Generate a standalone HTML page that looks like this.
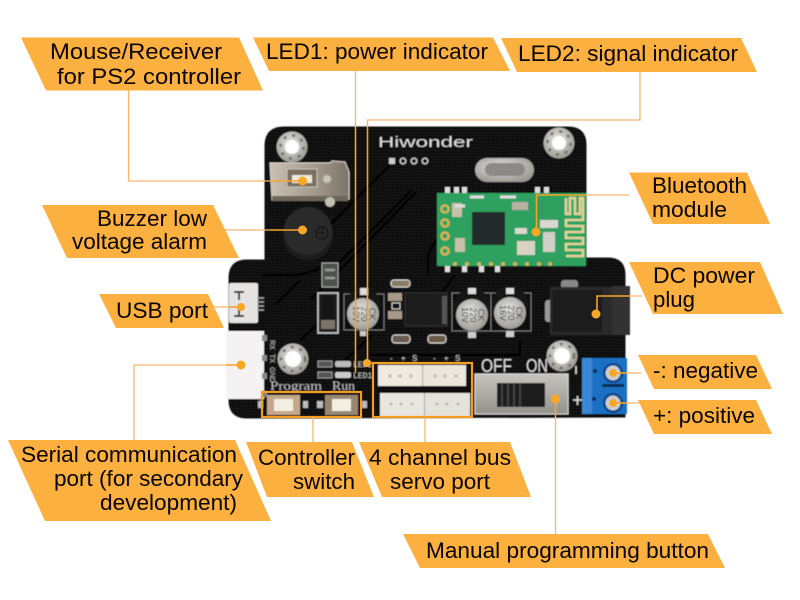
<!DOCTYPE html>
<html><head><meta charset="utf-8"><style>
html,body{margin:0;padding:0;background:#fff;width:800px;height:600px;overflow:hidden}
svg{display:block}
.t{font-family:"Liberation Sans",sans-serif;font-size:22px;fill:#0a0500}
.b{fill:#FBB03F}
.l{fill:none;stroke:#F8B570;stroke-width:1.3}
.o{fill:none;stroke:#F5A328;stroke-width:1.6}
.d{fill:#F9A825}
.s{font-family:"Liberation Sans",sans-serif;fill:#ddd}
.c{font-family:"Liberation Sans",sans-serif;font-size:9px;fill:#2a2a2a;text-anchor:middle}
</style></head><body>
<svg width="800" height="600" viewBox="0 0 800 600" xmlns="http://www.w3.org/2000/svg">
<defs>
<pattern id="g" width="3" height="3" patternUnits="userSpaceOnUse"><rect width="3" height="3" fill="#0e0e0e"/><rect width="1.4" height="1.4" fill="#1f1f1f"/></pattern>
<radialGradient id="m" cx="45%" cy="40%" r="60%"><stop offset="0" stop-color="#e8e8e6"/><stop offset="1" stop-color="#9c9a94"/></radialGradient>
<linearGradient id="sw" x1="0" x2="0" y1="0" y2="1"><stop offset="0" stop-color="#c6c4be"/><stop offset="1" stop-color="#94928c"/></linearGradient>
<linearGradient id="us" x1="0" x2="1" y1="0" y2="0"><stop offset="0" stop-color="#c9c1b4"/><stop offset=".6" stop-color="#a0968a"/><stop offset="1" stop-color="#7c7468"/></linearGradient>
<filter id="bl" x="-5%" y="-5%" width="110%" height="110%"><feGaussianBlur stdDeviation="0.5"/></filter>
</defs>
<rect width="800" height="600" fill="#fff"/>

<g filter="url(#bl)">
<!-- board -->
<path d="M265 146 Q265 127 284 127 L568 127 Q586 127 586 145 L586 258 L608 258 Q625 258 625 275 L625 417 L247 418 Q229 418 229 400 L229 278 Q229 260 247 260 L265 260 Z" fill="url(#g)" stroke="#141414"/>
<!-- traces -->
<g fill="none" stroke="#000" stroke-width="2.2" opacity=".8">
<path d="M390 165 L330 225"/><path d="M412 190 L340 262 L300 275 L262 275"/><path d="M416 192 L345 265 L310 300"/>
<path d="M436 240 L428 255 L428 275"/><path d="M300 340 L340 305"/><path d="M372 335 L345 360"/>
<path d="M520 340 L520 355 L470 355 L370 355"/><path d="M455 275 L440 295"/><path d="M300 280 L275 305"/>
</g>
<!-- holes -->
<g>
<circle cx="292" cy="147" r="15.5" fill="url(#m)"/><circle cx="292" cy="147" r="11.5" fill="none" stroke="#6f6d68" stroke-width="2.4" stroke-dasharray="3 6"/><circle cx="292" cy="147" r="7" fill="#fff"/>
<circle cx="559" cy="143" r="15.5" fill="url(#m)"/><circle cx="559" cy="143" r="11.5" fill="none" stroke="#6f6d68" stroke-width="2.4" stroke-dasharray="3 6"/><circle cx="559" cy="143" r="7" fill="#fff"/>
<circle cx="293" cy="359" r="15.5" fill="url(#m)"/><circle cx="293" cy="359" r="12" fill="none" stroke="#6f6d68" stroke-width="2.4" stroke-dasharray="3 6"/><circle cx="293" cy="359" r="8" fill="#fff"/>
<circle cx="562" cy="356" r="15.5" fill="url(#m)"/><circle cx="562" cy="356" r="12" fill="none" stroke="#6f6d68" stroke-width="2.4" stroke-dasharray="3 6"/><circle cx="562" cy="356" r="8" fill="#fff"/>
</g>
<!-- Hiwonder -->
<text x="378" y="147" class="s" font-size="15" textLength="95" lengthAdjust="spacingAndGlyphs" fill="#eee">Hiwonder</text>
<rect x="389" y="158" width="6" height="6" fill="#ccc"/>
<g fill="none" stroke="#ccc" stroke-width="1.4"><circle cx="403" cy="161" r="2.8"/><circle cx="414" cy="161" r="2.8"/><circle cx="425" cy="161" r="2.8"/></g>
<!-- USB A socket -->
<path d="M270 163 L330 163 L332 161 L345 162 L349 172 L349 199 L272 200 Z" fill="url(#us)" stroke="#d8d4cc"/>
<rect x="272" y="196" width="76" height="5" fill="#6e665a"/>
<rect x="287" y="169" width="30" height="18" fill="#7b6f60" stroke="#c8c2b8"/>
<rect x="292" y="175" width="20" height="8" fill="#efe9dc"/>
<circle cx="327" cy="179" r="4" fill="#c9c3b8"/>
<circle cx="330" cy="202" r="5" fill="#c4c0b8"/>
<!-- buzzer -->
<ellipse cx="308" cy="236" rx="25" ry="24" fill="#1e1e1e"/>
<circle cx="308" cy="231" r="24" fill="#2c2c2c"/>
<circle cx="322" cy="233" r="6" fill="none" stroke="#0c0c0c" stroke-width="1.2"/>
<path d="M318 233h8M322 229v8" stroke="#0c0c0c" stroke-width="1"/>
<!-- small SMD -->
<rect x="322" y="263" width="16" height="24" fill="#4c5248" stroke="#aaa"/>
<path d="M325 270h10M325 278h10" stroke="#999" stroke-width="2.4"/>
<rect x="391" y="280" width="19" height="7" rx="3" fill="#8a7a66" stroke="#ddd"/>
<rect x="388" y="293" width="14" height="8" fill="#a89a88"/><rect x="388" y="311" width="14" height="8" fill="#a89a88"/>
<rect x="392" y="303" width="8" height="6" fill="none" stroke="#ccc"/>
<rect x="392" y="335" width="18" height="8" rx="3" fill="#6b5a48" stroke="#ddd"/>
<rect x="428" y="335" width="18" height="8" rx="3" fill="#6b5a48" stroke="#ddd"/>
<!-- diode -->
<rect x="318" y="293" width="20" height="40" fill="#222" stroke="#ccc" stroke-width="1.6"/>
<rect x="321" y="296" width="14" height="34" fill="#191919"/><rect x="321" y="320" width="14" height="9" fill="#7c7468"/>
<!-- regulator -->
<rect x="405" y="293" width="42" height="33" fill="#1c1c1c" stroke="#333"/>
<rect x="442" y="296" width="5" height="28" fill="#555"/>
<!-- caps -->
<g>
<rect x="344" y="294" width="40" height="36" fill="#101010" stroke="#777"/>
<circle cx="363" cy="306" r="18" fill="#161616"/><circle cx="363" cy="314" r="16" fill="url(#m)"/>
<rect x="360" y="288" width="8" height="7" fill="#ddd"/><rect x="360" y="331" width="6" height="5" fill="#ccc"/>
<text class="c" transform="translate(369,314) rotate(90)"><tspan x="0" y="0">CK</tspan><tspan x="0" y="8">220</tspan><tspan x="0" y="16">10V</tspan></text>
<rect x="452" y="293" width="40" height="38" fill="#101010" stroke="#777"/>
<circle cx="472" cy="306" r="18" fill="#161616"/><circle cx="472" cy="315" r="16" fill="url(#m)"/>
<rect x="468" y="288" width="8" height="6" fill="#ddd"/><rect x="468" y="332" width="8" height="6" fill="#ccc"/>
<text class="c" transform="translate(478,315) rotate(90)"><tspan x="0" y="0">CK</tspan><tspan x="0" y="8">220</tspan><tspan x="0" y="16">10V</tspan></text>
<rect x="491" y="293" width="40" height="38" fill="#101010" stroke="#777"/>
<circle cx="510" cy="304" r="18" fill="#161616"/><circle cx="510" cy="313" r="16" fill="url(#m)"/>
<rect x="506" y="288" width="8" height="6" fill="#ddd"/><rect x="506" y="331" width="8" height="6" fill="#ccc"/>
<text class="c" transform="translate(516,313) rotate(90)"><tspan x="0" y="0">CK</tspan><tspan x="0" y="8">220</tspan><tspan x="0" y="16">16V</tspan></text>
</g>
<!-- crystal -->
<rect x="475" y="158" width="59" height="24" rx="12" fill="url(#m)"/>
<rect x="485" y="163" width="40" height="13" rx="6.5" fill="#8b8a86"/>
<!-- bluetooth module -->
<g fill="#ddd"><rect x="445" y="187" width="5" height="6"/><rect x="454" y="187" width="5" height="6"/><rect x="462" y="187" width="5" height="6"/><rect x="535" y="187" width="5" height="6"/><rect x="544" y="187" width="5" height="6"/>
<rect x="445" y="266" width="5" height="6"/><rect x="462" y="266" width="5" height="6"/><rect x="479" y="266" width="5" height="6"/><rect x="495" y="266" width="5" height="6"/></g>
<rect x="437" y="193" width="149" height="73" fill="#2fa05e"/>
<g fill="none" stroke="#d8b45a" stroke-width="2.4"><circle cx="445" cy="209" r="3.6"/><circle cx="445" cy="223" r="3.6"/><circle cx="445" cy="236" r="3.6"/><circle cx="445" cy="251" r="3.6"/></g>
<rect x="472" y="212" width="33" height="33" fill="#242a2a"/>
<path d="M566 198 V214 H570 V198 H575 V214 H580 V198 H583 V220 H566 V226 H583 V232 H566 V238 H583 V244 H566 V250 H583 V256 H566" fill="none" stroke="#e6d29a" stroke-width="2.6"/>
<rect x="517" y="241" width="18" height="14" fill="#d8d2c2"/>
<rect x="512" y="202" width="16" height="8" fill="#b8b0a0"/>
<rect x="452" y="203" width="10" height="14" fill="#c8c0a8"/><rect x="455" y="238" width="10" height="14" fill="#c8c0a8"/>
<rect x="540" y="220" width="18" height="8" fill="#d8d8d0"/><rect x="515" y="228" width="12" height="6" fill="#d8d8d0"/>
<rect x="543" y="232" width="12" height="20" fill="#cfcfc6"/>
<path d="M455 206h10M470 197h14M500 197h16" stroke="#ddd" stroke-width="3"/>
<g fill="#d8b45a"><circle cx="455" cy="264" r="2"/><circle cx="467" cy="264" r="2"/><circle cx="479" cy="264" r="2"/><circle cx="491" cy="264" r="2"/><circle cx="503" cy="264" r="2"/><circle cx="515" cy="264" r="2"/><circle cx="527" cy="264" r="2"/><circle cx="539" cy="264" r="2"/><circle cx="550" cy="264" r="2"/></g>
<!-- DC jack -->
<rect x="561" y="280" width="17" height="9" rx="3" fill="#888"/>
<rect x="545" y="300" width="9" height="22" rx="3" fill="#999"/>
<rect x="550" y="287" width="62" height="48" fill="#2a2a2a"/>
<rect x="612" y="286" width="18" height="49" fill="#303030"/>
<rect x="552" y="290" width="50" height="42" fill="#1c1c1c"/>
<!-- terminal -->
<rect x="582" y="358" width="45" height="56" fill="#1f70c4"/>
<rect x="582" y="358" width="10" height="56" fill="#3b86d6"/>
<circle cx="613" cy="373" r="10" fill="#0d4488"/><circle cx="613" cy="373" r="7.5" fill="#cbcfd2"/>
<circle cx="613" cy="403" r="10" fill="#0d4488"/><circle cx="613" cy="403" r="7.5" fill="#cbcfd2"/>
<rect x="602" y="384" width="22" height="3" fill="#0b2a50"/>
<circle cx="595" cy="371" r="2" fill="#0a2a50"/><circle cx="594" cy="399" r="2" fill="#0a2a50"/>
<!-- switch -->
<rect x="475" y="374" width="93" height="40" fill="url(#sw)" stroke="#d8d8d4"/>
<rect x="497" y="383" width="48" height="24" fill="#1c1c1c"/>
<path d="M502 383v24M508 383v24M514 383v24M520 383v24" stroke="#4a4a4a" stroke-width="1.6"/>
<text x="481" y="372" class="s" font-size="18" textLength="31" lengthAdjust="spacingAndGlyphs" fill="#ddd">OFF</text>
<text x="526" y="372" class="s" font-size="18" textLength="22" lengthAdjust="spacingAndGlyphs" fill="#ddd">ON</text>
<path d="M573 400h9M577.5 396v9M576 366v8" stroke="#ddd" stroke-width="1.6"/>
<!-- USB micro -->
<rect x="229" y="283" width="29" height="40" rx="2" fill="#e6e4e2"/>
<path d="M234 292h10M239 292v8M234 316h10M239 316v-8" stroke="#333" stroke-width="2" fill="none"/>
<path d="M257 298h7M257 302h7M257 306h7M257 310h7" stroke="#aaa" stroke-width="1.4"/>
<!-- white serial conn -->
<rect x="226" y="331" width="38" height="68" fill="#f4f2f2"/>
<g fill="#888"><rect x="262" y="335" width="5" height="6"/><rect x="262" y="355" width="5" height="6"/><rect x="262" y="373" width="5" height="6"/><rect x="262" y="391" width="5" height="6"/></g>
<g font-family="Liberation Sans,sans-serif" font-size="7" fill="#bbb">
<text transform="translate(270,340) rotate(90)">RX</text>
<text transform="translate(270,354) rotate(90)">TX</text>
<text transform="translate(270,367) rotate(90)">GND</text>
<text x="353" y="367" font-family="Liberation Mono,monospace" font-size="8" fill="#ccc">  LED2</text>
<text x="353" y="378" font-family="Liberation Mono,monospace" font-size="8" fill="#ccc">  LED1</text>
<text x="390 401 412" y="361" font-size="8" fill="#ccc">-+S</text><text x="433 444 455" y="361" font-size="8" fill="#ccc">-+S</text>
</g>
<rect x="318" y="361" width="14" height="6" fill="#555" stroke="#999"/><rect x="318" y="372" width="14" height="6" fill="#555" stroke="#999"/>
<rect x="335" y="361" width="16" height="6" rx="2" fill="#bbb"/><rect x="335" y="372" width="16" height="6" rx="2" fill="#ccc"/>
<text x="270" y="390" font-family="Liberation Serif,serif" font-size="13" fill="#bbb" textLength="52" lengthAdjust="spacingAndGlyphs">Program</text>
<text x="332" y="390" font-family="Liberation Serif,serif" font-size="13" fill="#bbb" textLength="23" lengthAdjust="spacingAndGlyphs">Run</text>
<!-- buttons -->
<rect x="267" y="395" width="33" height="20" fill="#c2a78a"/><rect x="274" y="399" width="19" height="12" fill="#f3eee2"/>
<rect x="325" y="395" width="33" height="20" fill="#978672"/><rect x="332" y="399" width="19" height="12" fill="#f3eee2"/>
<rect x="258" y="401" width="5" height="7" fill="#bbb"/><rect x="303" y="401" width="5" height="7" fill="#bbb"/><rect x="317" y="401" width="6" height="7" fill="#bbb"/><rect x="362" y="401" width="5" height="7" fill="#bbb"/>
<!-- servo conn -->
<rect x="378" y="365" width="44" height="21" fill="#eeeae2"/>
<rect x="422" y="365" width="44" height="21" fill="#eae6de"/>
<rect x="380" y="393" width="44" height="24" fill="#e8e6e0"/>
<rect x="425" y="393" width="45" height="24" fill="#e4e2da"/>
<rect x="378" y="386" width="92" height="7" fill="#0c0c0c"/>
<path d="M422.500 365v21M424.500 393v24" stroke="#a8a49c" stroke-width="1"/>
<g fill="#b8b4aa"><circle cx="390" cy="376" r="1.6"/><circle cx="400" cy="376" r="1.6"/><circle cx="411" cy="376" r="1.6"/><circle cx="435" cy="376" r="1.6"/><circle cx="445" cy="376" r="1.6"/><circle cx="456" cy="376" r="1.6"/><circle cx="391" cy="404" r="1.4"/><circle cx="401" cy="404" r="1.4"/><circle cx="412" cy="404" r="1.4"/><circle cx="437" cy="404" r="1.4"/><circle cx="447" cy="404" r="1.4"/><circle cx="458" cy="404" r="1.4"/></g>
</g>

<!-- callout boxes -->
<rect x="262" y="392" width="99" height="25" fill="none" stroke="#F39E20" stroke-width="2.2"/>
<rect x="373" y="363" width="99" height="54" fill="none" stroke="#F39E20" stroke-width="2.2"/>

<!-- connectors -->
<g class="l">
<path d="M128.500 90 V181 H270"/>
<path d="M355.500 71 V127"/>
<path d="M640 72 V120 H367.500 V127"/>
<path d="M225 230 H270"/>
<path d="M214 307 H229"/>
<path d="M134 440 V365 H226"/>
<path d="M313 417 V442"/>
<path d="M425 418 V442"/>
<path d="M555.500 534 V415"/>
<path d="M629 195 H586"/>
<path d="M642 296 H630"/>
<path d="M641 373 H627"/>
<path d="M641 403 H627"/>
</g>
<g class="o">
<path d="M270 181 H302"/><path d="M270 230 H302"/><path d="M229 307 H240"/>
<path d="M226 365 H240"/><path d="M355.500 127 V373"/><path d="M367.500 127 V362"/>
<path d="M555.500 415 V400"/><path d="M586 195 H536.500 V232"/><path d="M630 296 H597 V314"/>
<path d="M627 373 H613"/><path d="M627 403 H613"/>
</g>
<g class="d">
<circle cx="302.500" cy="181" r="4.500"/><circle cx="302.500" cy="230" r="4.500"/><circle cx="241" cy="307" r="4"/><circle cx="241" cy="365" r="4.500"/>
<circle cx="367" cy="363" r="4"/><circle cx="555.500" cy="399" r="4.500"/><circle cx="536" cy="232" r="4.500"/><circle cx="596" cy="314" r="4.500"/><circle cx="613" cy="373" r="4"/><circle cx="613" cy="403" r="4"/>
</g>

<!-- banners -->
<polygon class="b" points="21,37.500 239,37.500 263,90.500 46,90.500"/>
<polygon class="b" points="253,37.500 493,37.500 510,71 269,71"/>
<polygon class="b" points="501,38 741,38 757,72 517,72"/>
<polygon class="b" points="42,205 213,205 239,258 67,258"/>
<polygon class="b" points="99,294 208,294 224,328 116,328"/>
<polygon class="b" points="8,440 235,440 271,521 45,521"/>
<polygon class="b" points="246,442 352,442 374,497 267,497"/>
<polygon class="b" points="359,442 510,442 531,497 382,497"/>
<polygon class="b" points="403,534 708,534 725,568 420,568"/>
<polygon class="b" points="629,172.500 747,172.500 770,224 653,224"/>
<polygon class="b" points="629,262 760,262 783,314 653,314"/>
<polygon class="b" points="638,355 756,355 772,389 654,389"/>
<polygon class="b" points="638,400 756,400 772,434 654,434"/>

<!-- labels -->
<text class="t" x="50" y="59" textLength="172" lengthAdjust="spacingAndGlyphs">Mouse/Receiver</text>
<text class="t" x="57" y="84" textLength="184" lengthAdjust="spacingAndGlyphs">for PS2 controller</text>
<text class="t" x="266" y="59" textLength="222" lengthAdjust="spacingAndGlyphs">LED1: power indicator</text>
<text class="t" x="518" y="61" textLength="220" lengthAdjust="spacingAndGlyphs">LED2: signal indicator</text>
<text class="t" x="97" y="226" textLength="110" lengthAdjust="spacingAndGlyphs">Buzzer low</text>
<text class="t" x="72" y="249" textLength="135" lengthAdjust="spacingAndGlyphs">voltage alarm</text>
<text class="t" x="116" y="318" textLength="92" lengthAdjust="spacingAndGlyphs">USB port</text>
<text class="t" x="21" y="462" textLength="216" lengthAdjust="spacingAndGlyphs">Serial communication</text>
<text class="t" x="54" y="486" textLength="189" lengthAdjust="spacingAndGlyphs">port (for secondary</text>
<text class="t" x="100" y="510" textLength="137" lengthAdjust="spacingAndGlyphs">development)</text>
<text class="t" x="258" y="465" textLength="97" lengthAdjust="spacingAndGlyphs">Controller</text>
<text class="t" x="293" y="489" textLength="62" lengthAdjust="spacingAndGlyphs">switch</text>
<text class="t" x="369" y="465" textLength="142" lengthAdjust="spacingAndGlyphs">4 channel bus</text>
<text class="t" x="390" y="489" textLength="100" lengthAdjust="spacingAndGlyphs">servo port</text>
<text class="t" x="426" y="558" textLength="283" lengthAdjust="spacingAndGlyphs">Manual programming button</text>
<text class="t" x="652" y="193" textLength="95" lengthAdjust="spacingAndGlyphs">Bluetooth</text>
<text class="t" x="652" y="217" textLength="75" lengthAdjust="spacingAndGlyphs">module</text>
<text class="t" x="653" y="283" textLength="102" lengthAdjust="spacingAndGlyphs">DC power</text>
<text class="t" x="653" y="307" textLength="42" lengthAdjust="spacingAndGlyphs">plug</text>
<text class="t" x="653" y="378" textLength="105" lengthAdjust="spacingAndGlyphs">-: negative</text>
<text class="t" x="653" y="423" textLength="102" lengthAdjust="spacingAndGlyphs">+: positive</text>
</svg>
</body></html>
